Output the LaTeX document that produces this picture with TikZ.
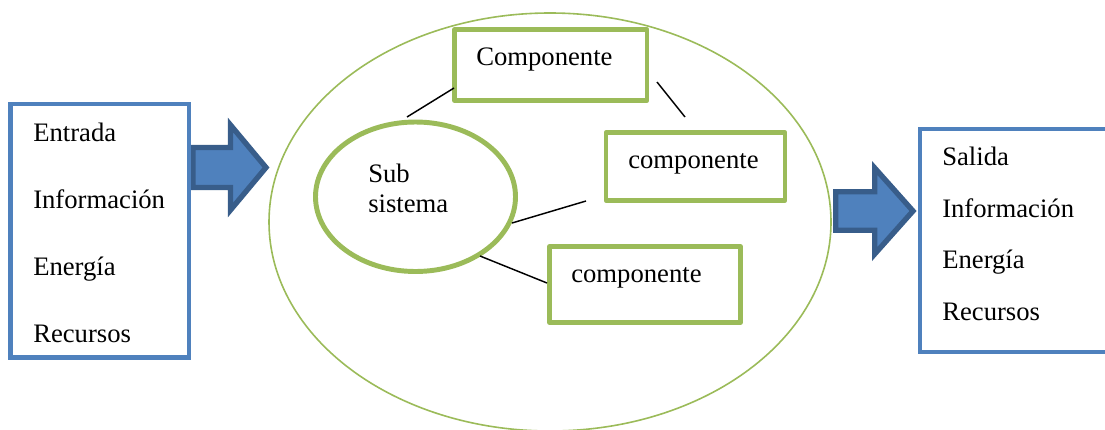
\documentclass[tikz,border=0pt]{standalone}
\usepackage{fontspec}
\setmainfont{Liberation Serif}
\newfontfamily\labelfont{Liberation Serif}
\usetikzlibrary{shapes.geometric}

\definecolor{boxblue}{HTML}{4F81BD}
\definecolor{arrowline}{HTML}{385D8A}
\definecolor{leaf}{HTML}{9BBB59}

\tikzset{
  bluebox/.style={draw=boxblue, line width=3.4pt, fill=white, rectangle, inner sep=0pt},
  compbox/.style={draw=leaf, line width=3.6pt, fill=white, rectangle, inner sep=0pt, line join=round},
  txt/.style={anchor=base west, inner sep=0pt, font=\labelfont\fontsize{20}{24}\selectfont},
  link/.style={draw=black, line width=1.1pt},
  blockarrow/.style={draw=arrowline, fill=boxblue, line width=4pt, line join=miter},
}

\begin{document}
\begin{tikzpicture}[x=0.75pt,y=-0.75pt]
  \useasboundingbox (0,0) rectangle (1105,429);
  \clip (0,0) rectangle (1105,429);

  % system boundary
  \node[draw=leaf, line width=1.2pt, ellipse, inner sep=0pt,
        minimum width=421.5pt, minimum height=313.5pt] (system) at (550,222) {};

  % input and output block arrows
  \path[blockarrow] (193,147.5) -- (230.5,147.5) -- (230.5,125) -- (266,167.5)
        -- (230.5,210) -- (230.5,187.5) -- (193,187.5) -- cycle;
  \path[blockarrow] (835.7,191.7) -- (874.7,191.7) -- (874.7,168) -- (913,211)
        -- (874.7,254) -- (874.7,230.3) -- (835.7,230.3) -- cycle;

  % input box
  \node[bluebox, minimum width=133.875pt, minimum height=190.125pt] (input) at (99.75,230.75) {};
  \node[txt] (in1) at (33,141.7) {Entrada};
  \node[txt] (in2) at (33,208) {Información};
  \node[txt] (in3) at (33,275) {Energía};
  \node[txt] (in4) at (33,342) {Recursos};

  % output box
  \node[bluebox, minimum width=146.25pt, minimum height=167.25pt] (output) at (1017.5,240.5) {};
  \node[txt] (out1) at (942,165) {Salida};
  \node[txt] (out2) at (942,217) {Información};
  \node[txt] (out3) at (942,268) {Energía};
  \node[txt] (out4) at (942,320) {Recursos};

  % components
  \node[compbox, minimum width=144.375pt, minimum height=53.25pt] (compA) at (550.75,65) {};
  \node[txt] (compAtxt) at (476,65) {Componente};
  \node[compbox, minimum width=134.25pt, minimum height=51pt] (compB) at (695.5,166.5) {};
  \node[txt] (compBtxt) at (628,168) {componente};
  \node[compbox, minimum width=143.25pt, minimum height=57pt] (compC) at (645,284.5) {};
  \node[txt] (compCtxt) at (571,282) {componente};

  % subsystem
  \node[draw=leaf, line width=3.7pt, fill=white, ellipse, inner sep=0pt,
        minimum width=150pt, minimum height=112.125pt] (sub) at (415.5,196.75) {};
  \node[txt] (subtxt1) at (368,182) {Sub};
  \node[txt] (subtxt2) at (368,212) {sistema};

  % connector end points
  \coordinate (l1a) at (407,117);
  \coordinate (l1b) at (454,88);
  \coordinate (l2a) at (657,82);
  \coordinate (l2b) at (685,117);
  \coordinate (l3a) at (512,223);
  \coordinate (l3b) at (586,201);
  \coordinate (l4a) at (480,256);
  \coordinate (l4b) at (547,283);

  \draw[link] (l1a) -- (l1b);
  \draw[link] (l2a) -- (l2b);
  \draw[link] (l3a) -- (l3b);
  \draw[link] (l4a) -- (l4b);
\end{tikzpicture}
\end{document}
